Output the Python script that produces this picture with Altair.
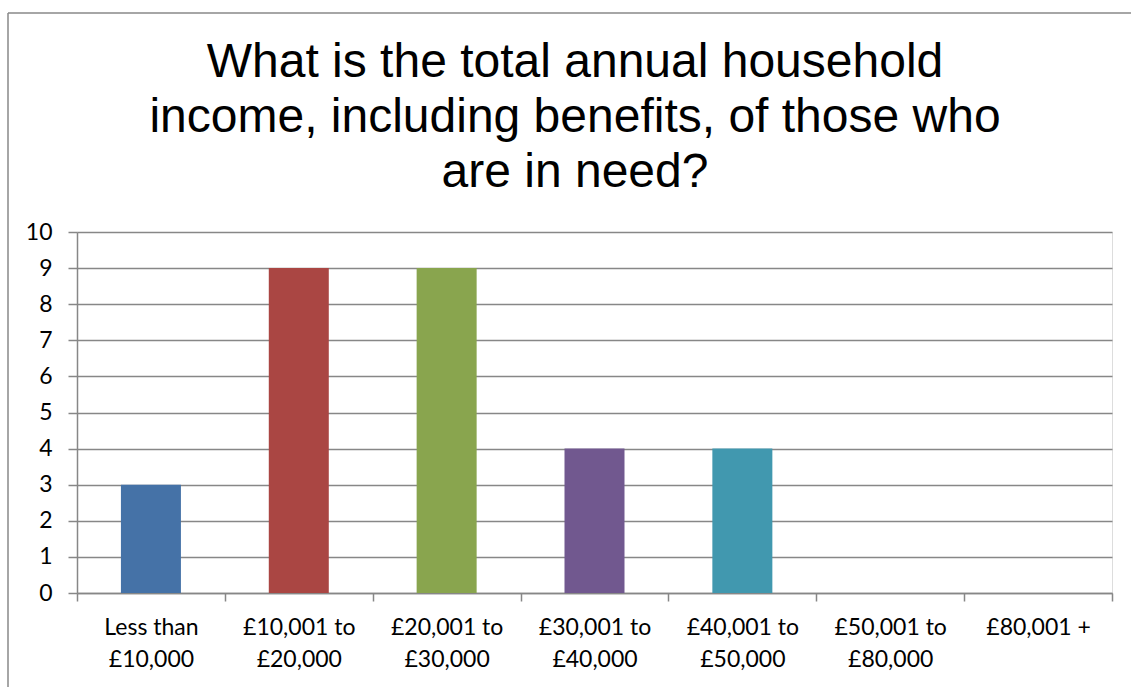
import altair as alt
import pandas as pd

categories = ["Less than £10,000", "£10,001 to £20,000", "£20,001 to £30,000",
              "£30,001 to £40,000", "£40,001 to £50,000", "£50,001 to £80,000",
              "£80,001 +"]
counts = [3, 9, 9, 4, 4, 0, 0]
colors = ["#4572A7", "#AA4643", "#89A54E", "#71588F", "#4198AF", "#DB843D", "#93A9CF"]
title_lines = ["What is the total annual household",
               "income, including benefits, of those who",
               "are in need?"]

df = pd.DataFrame({"cat": categories, "n": counts})
one = pd.DataFrame({"k": [0]})

grid_col = "#878787"

bars = alt.Chart(df).mark_bar(width=60).encode(
    x=alt.X("cat:N", sort=categories, title=None,
            scale=alt.Scale(paddingInner=0, paddingOuter=0),
            axis=alt.Axis(labelAngle=0, labelFont="Lato", labelFontSize=23,
                          labelColor="#000000", labelLineHeight=32,
                          labelExpr="split(replace(datum.label, ' £', '\\n£'), '\\n')",
                          tickBand="extent", tickSize=8, tickColor=grid_col,
                          tickWidth=1.5, domainColor=grid_col, domainWidth=1.5,
                          labelPadding=15, grid=False)),
    y=alt.Y("n:Q", title=None,
            scale=alt.Scale(domain=[0, 10], nice=False),
            axis=alt.Axis(values=list(range(0, 11)), labelFont="Lato",
                          labelFontSize=23, labelColor="#000000",
                          tickSize=9, tickColor=grid_col, tickWidth=1.5,
                          domainColor=grid_col, domainWidth=1.5,
                          gridColor=grid_col, gridWidth=1.5, gridOpacity=1,
                          labelPadding=16)),
    color=alt.Color("cat:N", sort=categories,
                    scale=alt.Scale(domain=categories, range=colors), legend=None),
)

title = alt.Chart(one).mark_text(
    text=title_lines, font="Liberation Sans", fontSize=48, lineHeight=55,
    baseline="top", align="center", color="#000000",
).encode(x=alt.value(498), y=alt.value(-193))

border_v = alt.Chart(one).mark_rule(color="#888888", strokeWidth=1.5).encode(
    x=alt.value(-69), y=alt.value(-219), y2=alt.value(460))
border_h = alt.Chart(one).mark_rule(color="#888888", strokeWidth=1.5).encode(
    x=alt.value(-69), x2=alt.value(1060), y=alt.value(-219))

chart = alt.layer(bars, title, border_v, border_h).properties(
    width=1035, height=361,
    autosize=alt.AutoSizeParams(type="none"),
    padding={"left": 77, "top": 232, "right": 19, "bottom": 94},
).configure_view(stroke=None).configure(background="#ffffff")

chart.save("out.html", embed_options={"renderer": "svg", "actions": False})
